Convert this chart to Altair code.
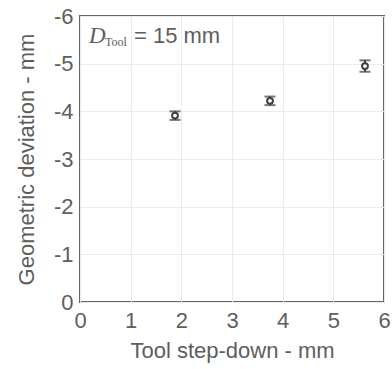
import altair as alt
import pandas as pd

# Tool step-down (mm) and mean geometric deviation (mm) with error half-widths
step_down = [1.875, 3.75, 5.625]
deviation = [-3.91, -4.22, -4.95]
error = [0.09, 0.09, 0.12]

df = pd.DataFrame({"x": step_down, "y": deviation, "e": error})
df["lo"] = df["y"] - df["e"]
df["hi"] = df["y"] + df["e"]

TEXT = "#5e5e5e"
MARK = "#404040"

xscale = alt.Scale(domain=[0, 6], nice=False)
yscale = alt.Scale(domain=[-6, 0], reverse=True, nice=False)

xaxis = alt.Axis(values=[0, 1, 2, 3, 4, 5, 6], title="Tool step-down - mm",
                 ticks=False, domain=False, labelFontSize=22, titleFontSize=22,
                 labelColor=TEXT, titleColor=TEXT, labelFont="Liberation Sans",
                 titleFont="Liberation Sans", titleFontWeight="normal",
                 labelPadding=8, titlePadding=9, gridColor="#ebebeb",
                 labelFlush=False)
yaxis = alt.Axis(values=[0, -1, -2, -3, -4, -5, -6], title="Geometric deviation - mm",
                 ticks=False, domain=False, labelFontSize=22, titleFontSize=22,
                 labelColor=TEXT, titleColor=TEXT, labelFont="Liberation Sans",
                 titleFont="Liberation Sans", titleFontWeight="normal",
                 labelPadding=7, titlePadding=15, gridColor="#ebebeb",
                 labelExpr="'' + datum.value", labelFlush=False)

base = alt.Chart(df)

bars = base.mark_rule(color=MARK, strokeWidth=2).encode(
    x=alt.X("x:Q", scale=xscale, axis=xaxis),
    y=alt.Y("lo:Q", scale=yscale, axis=yaxis),
    y2="hi:Q",
)
cap_lo = base.mark_tick(color=MARK, thickness=2, size=11, orient="horizontal").encode(
    x=alt.X("x:Q", scale=xscale), y=alt.Y("lo:Q", scale=yscale))
cap_hi = base.mark_tick(color=MARK, thickness=2, size=11, orient="horizontal").encode(
    x=alt.X("x:Q", scale=xscale), y=alt.Y("hi:Q", scale=yscale))
points = base.mark_point(shape="circle", filled=True, fill="white", stroke=MARK,
                         strokeWidth=2, size=34, opacity=1).encode(
    x=alt.X("x:Q", scale=xscale), y=alt.Y("y:Q", scale=yscale))

label_d = alt.Chart(pd.DataFrame({"t": ["D"]})).mark_text(
    font="Liberation Serif", fontStyle="italic", fontSize=23, color=TEXT,
    align="left", baseline="alphabetic").encode(
    x=alt.value(9), y=alt.value(27), text="t:N")
label_sub = alt.Chart(pd.DataFrame({"t": ["Tool"]})).mark_text(
    font="Liberation Serif", fontSize=12, color=TEXT,
    align="left", baseline="alphabetic").encode(
    x=alt.value(25), y=alt.value(30), text="t:N")
label_eq = alt.Chart(pd.DataFrame({"t": ["= 15 mm"]})).mark_text(
    font="Liberation Sans", fontSize=22, color=TEXT,
    align="left", baseline="alphabetic").encode(
    x=alt.value(54), y=alt.value(27), text="t:N")

chart = alt.layer(bars, cap_lo, cap_hi, points, label_d, label_sub, label_eq).properties(
    width=304, height=286,
    autosize=alt.AutoSizeParams(type="none"),
    padding={"left": 80, "top": 16, "right": 8, "bottom": 67},
    background="white",
).configure_view(stroke="#666666", strokeWidth=2)

chart.save("out.html", embed_options={"renderer": "svg", "actions": False})
